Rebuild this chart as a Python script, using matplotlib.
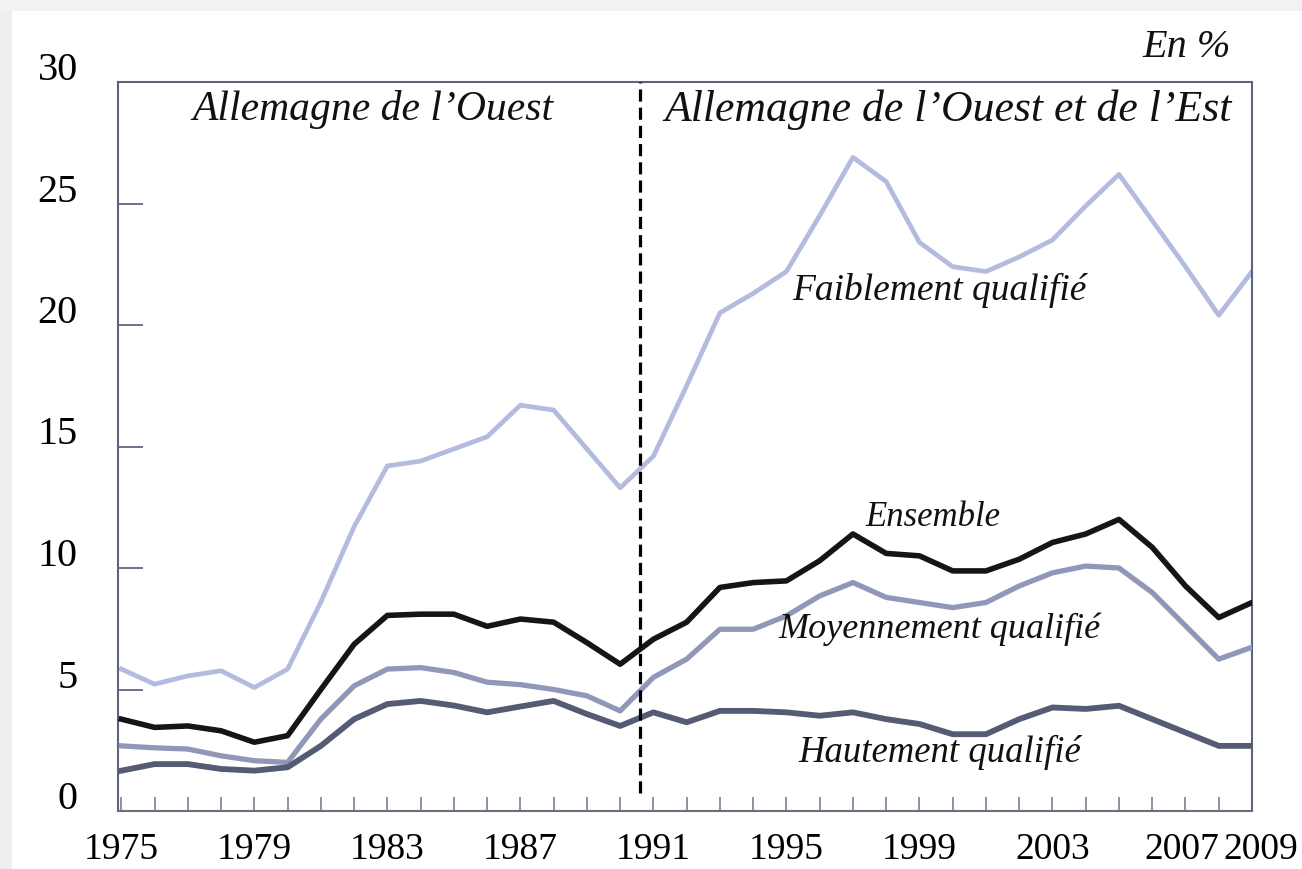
import matplotlib.pyplot as plt
import matplotlib.transforms as mtransforms
from matplotlib.patches import Rectangle

# Taux de chômage par niveau de qualification (en %), Allemagne 1975-2009
years = list(range(1975, 2010))

faiblement = [5.84, 5.22, 5.56, 5.77, 5.08, 5.84, 8.6, 11.7, 14.2, 14.4,
              14.9, 15.4, 16.7, 16.5, 14.9, 13.3, 14.6, 17.5, 20.5, 21.3,
              22.2, 24.5, 26.9, 25.9, 23.4, 22.4, 22.2, 22.8, 23.5, 24.9,
              26.2, 24.3, 22.4, 20.4, 22.2]
ensemble = [3.78, 3.44, 3.5, 3.3, 2.83, 3.1, 5.0, 6.86, 8.05, 8.1,
            8.1, 7.6, 7.9, 7.77, 6.93, 6.04, 7.07, 7.77, 9.2, 9.4,
            9.47, 10.3, 11.4, 10.6, 10.5, 9.88, 9.88, 10.36, 11.05, 11.4,
            12.0, 10.85, 9.26, 7.96, 8.58]
moyennement = [2.68, 2.6, 2.55, 2.27, 2.07, 2.0, 3.78, 5.15, 5.84, 5.9,
               5.7, 5.3, 5.2, 5.0, 4.74, 4.12, 5.5, 6.25, 7.48, 7.48,
               8.03, 8.85, 9.4, 8.79, 8.58, 8.37, 8.58, 9.26, 9.8, 10.08,
               10.0, 8.99, 7.62, 6.25, 6.74]
hautement = [1.66, 1.93, 1.93, 1.73, 1.66, 1.8, 2.68, 3.78, 4.4, 4.53,
             4.34, 4.06, 4.3, 4.53, 3.99, 3.5, 4.06, 3.65, 4.12, 4.12,
             4.06, 3.92, 4.06, 3.78, 3.58, 3.16, 3.16, 3.78, 4.26, 4.2,
             4.33, 3.78, 3.23, 2.68, 2.68]

xtick_years = [1975, 1979, 1983, 1987, 1991, 1995, 1999, 2003, 2007, 2009]
ytick_values = [0, 5, 10, 15, 20, 25, 30]
split_year = 1990.6  # réunification

serif = ["Liberation Serif", "DejaVu Serif"]
plt.rcParams["font.family"] = serif

fig = plt.figure(figsize=(13.02, 8.7), dpi=100)
fig.patch.set_facecolor("white")
# bords gris du scan
fig.patches.append(Rectangle((0, 0), 12 / 1302, 1, transform=fig.transFigure,
                             facecolor="#efefef", edgecolor="none", zorder=0))
fig.patches.append(Rectangle((0, 1 - 12 / 870), 1, 12 / 870, transform=fig.transFigure,
                             facecolor="#f2f2f2", edgecolor="none", zorder=0))

ax = fig.add_axes([118 / 1302, 1 - 812 / 870, (1252 - 118) / 1302, (812 - 83) / 870])

ax.plot(years, faiblement, color="#b3bbdf", lw=3.4, solid_joinstyle="round", zorder=2)
ax.plot(years, moyennement, color="#9097b8", lw=3.8, solid_joinstyle="round", zorder=3)
ax.plot(years, hautement, color="#555b73", lw=4.2, solid_joinstyle="round", zorder=3)
ax.plot(years, ensemble, color="#151515", lw=4.0, solid_joinstyle="round", zorder=4)

ax.axvline(split_year, ymin=0.025, ymax=1, color="black", lw=2.3,
           linestyle=(0, (3.8, 1.9)), zorder=5)

ax.set_xlim(1974.9, 2009)
ax.set_ylim(0, 30)

ax.set_xticks(xtick_years)
ax.set_xticks(years, minor=True)
ax.set_yticks(ytick_values)
ax.set_xticklabels([str(y) for y in xtick_years])
ax.tick_params(axis="x", which="both", direction="in", length=10, width=1.2,
               color="#7a7f95", labelsize=27, pad=15)
ax.tick_params(axis="y", direction="in", length=18, width=1.4,
               color="#6a7090", labelsize=29, pad=29)

# les étiquettes de l'axe y sont un peu au-dessus des graduations
up = mtransforms.ScaledTranslation(0, 17 / 100, fig.dpi_scale_trans)
for lbl in ax.get_yticklabels():
    lbl.set_transform(lbl.get_transform() + up)
xlabels = ax.get_xticklabels()
for lbl, dx in [(xlabels[-2], -4), (xlabels[-1], 9)]:
    lbl.set_transform(lbl.get_transform() +
                      mtransforms.ScaledTranslation(dx / 100, 0, fig.dpi_scale_trans))

for side in ["left", "right", "top", "bottom"]:
    ax.spines[side].set_color("#5c6280")
    ax.spines[side].set_linewidth(1.5)
ax.spines["bottom"].set_color("#6e6e78")

it = dict(style="italic", family=serif, ha="center", va="center", color="#111111")
ax.text(1982.57, 28.9, "Allemagne de l\u2019Ouest", fontsize=30, **it)
ax.text(1999.86, 28.9, "Allemagne de l\u2019Ouest et de l\u2019Est", fontsize=31.5, **it)
ax.text(2008.35, 31.45, "En %", fontsize=29, style="italic", family=serif,
        ha="right", va="center", color="#111111", clip_on=False)
ax.text(1999.6, 21.45, "Faiblement qualifié", fontsize=27, **it)
ax.text(1999.4, 12.1, "Ensemble", fontsize=25, **it)
ax.text(1999.6, 7.5, "Moyennement qualifié", fontsize=26, zorder=6, **it)
ax.text(1999.6, 2.47, "Hautement qualifié", fontsize=26.5, **it)

fig.savefig("out.png", dpi=100)
